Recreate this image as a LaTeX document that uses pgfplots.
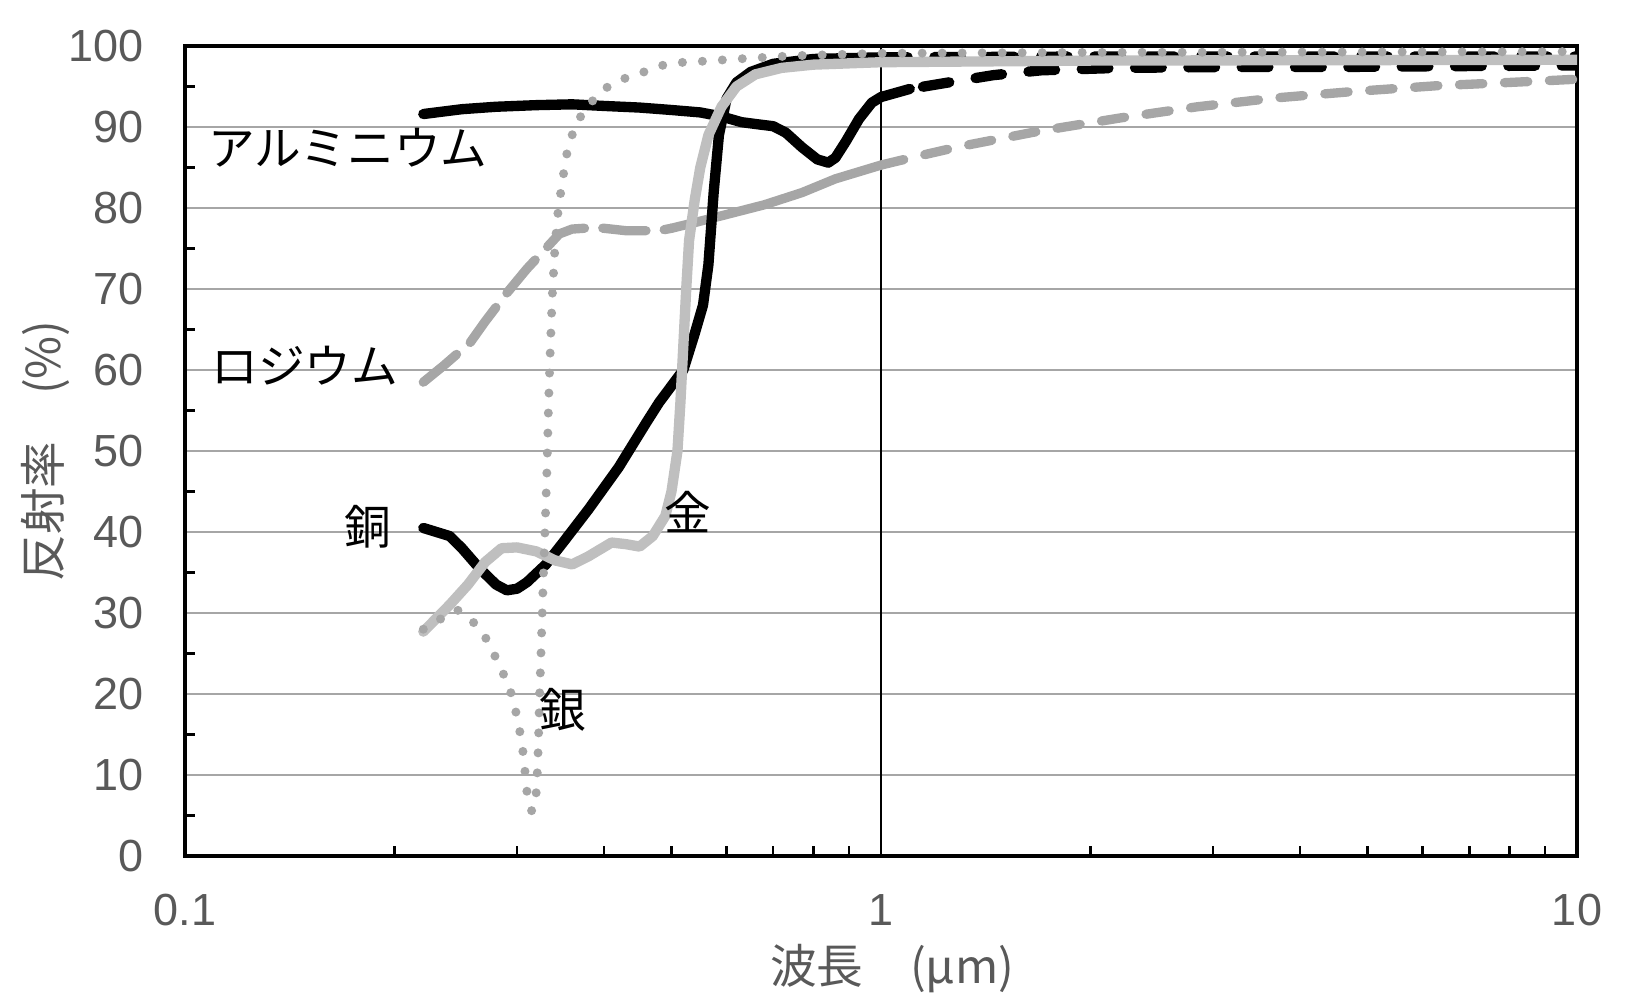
\documentclass[border=0pt]{standalone}
\usepackage{fontspec}
\setmainfont{Liberation Sans}
\newfontfamily\jp{Noto Sans CJK JP}
\usepackage{pgfplots}
\pgfplotsset{compat=1.18}
\definecolor{tickgray}{HTML}{595959}
\definecolor{midgray}{HTML}{A6A6A6}
\definecolor{goldgray}{HTML}{BFBFBF}

\begin{document}
\begin{tikzpicture}
\begin{axis}[
  at={(0,0)}, anchor=south west,
  scale only axis, width=417.6pt, height=243pt,
  xmode=log, xmin=0.1, xmax=10, ymin=0, ymax=100,
  xtick={0.1,1,10}, xticklabels={{0.1},{1},{10}},
  minor xtick={0.2,0.3,0.4,0.5,0.6,0.7,0.8,0.9,2,3,4,5,6,7,8,9},
  ytick={0,10,...,100}, minor ytick={5,15,...,95},
  tick pos=lower,
  ymajorgrids, major grid style={midgray, line width=0.6pt},
  major tick length=0pt, minor tick length=3pt,
  minor tick style={black, line width=0.8pt},
  axis line style={black, line width=1.1pt},
  tick label style={font=\fontsize{13.5}{16}\selectfont, text=tickgray},
  /pgf/number format/assume math mode=true,
  yticklabel style={xshift=-9pt},
  xticklabel style={yshift=-8pt},
  xlabel={\jp 波長　(μm)}, ylabel={\jp 反射率　(\%)},
  label style={font=\fontsize{14}{16}\selectfont, text=tickgray},
  xlabel style={at={(axis description cs:0.508,-0.1395)}, anchor=center},
  ylabel style={at={(axis description cs:-0.1006,0.5)}, anchor=center},
  every axis plot/.append style={line join=round},
]
% vertical reference line at 1 um
\addplot[black, line width=0.6pt] coordinates {(1,0) (1,100)};

% aluminium
\addplot[black, line width=3.1pt, line cap=round] coordinates {
(0.22,91.6) (0.25,92.2) (0.28,92.5) (0.32,92.7) (0.36,92.8) (0.40,92.6)
(0.45,92.4) (0.50,92.1) (0.55,91.8) (0.59,91.3) (0.63,90.6) (0.67,90.3)
(0.70,90.1) (0.73,89.3) (0.77,87.5) (0.81,86.0) (0.84,85.6) (0.86,86.2)
(0.89,88.2) (0.93,91.0) (0.97,93.0) (1.0,93.7) (1.1,94.7)};
\addplot[black, line width=3.1pt, line cap=round, dash pattern=on 8pt off 8pt, dash phase=12pt] coordinates {
(1.1,94.7) (1.25,95.5) (1.45,96.4) (1.7,97.0) (2.2,97.3) (3.1,97.4)
(4.4,97.4) (6.3,97.5) (10,97.6)};

% rhodium
\addplot[midgray, line width=2.8pt, line cap=round, dash pattern=on 13pt off 5.5pt] coordinates {
(0.22,58.5) (0.235,60.5) (0.25,62.5) (0.255,63.0) (0.27,66.0) (0.29,69.5)
(0.31,72.5) (0.33,75.0) (0.345,76.8) (0.36,77.4) (0.39,77.6) (0.43,77.2)
(0.48,77.2) (0.5,77.5)};
\addplot[midgray, line width=2.8pt, line cap=round] coordinates {
(0.5,77.5) (0.54,78.2) (0.6,79.2) (0.68,80.4) (0.77,81.9) (0.86,83.6) (1.0,85.3)};
\addplot[midgray, line width=2.8pt, line cap=round, dash pattern=on 7pt off 6.5pt] coordinates {
(1.0,85.3) (1.13,86.4) (1.3,87.6) (1.69,89.5) (2.2,91.1) (2.85,92.5)
(3.7,93.6) (4.8,94.4) (6.3,95.1) (8,95.5) (10,95.9)};

% copper
\addplot[black, line width=3.1pt, line cap=round] coordinates {
(0.22,40.5) (0.24,39.5) (0.25,38.0) (0.265,35.5) (0.28,33.5) (0.29,32.8)
(0.30,33.0) (0.31,33.8) (0.33,36.0) (0.35,38.8) (0.38,42.8) (0.42,48.0)
(0.46,53.5) (0.48,56.0) (0.52,60.0) (0.54,64.5) (0.555,68.0) (0.565,73.0)
(0.575,82.0) (0.585,89.0) (0.60,93.5) (0.62,95.5) (0.65,96.8) (0.70,97.8)
(0.80,98.4) (1.0,98.6)};
\addplot[black, line width=3.1pt, line cap=round, dash pattern=on 8pt off 8pt] coordinates {
(1.0,98.6) (2,98.7) (5,98.7) (10,98.7)};

% gold
\addplot[goldgray, line width=3.1pt, line cap=round] coordinates {
(0.22,27.7) (0.24,31.0) (0.255,33.5) (0.27,36.3) (0.285,38.0) (0.30,38.1)
(0.32,37.6) (0.34,36.5) (0.36,36.0) (0.38,37.0) (0.41,38.7) (0.43,38.5)
(0.45,38.2) (0.47,39.5) (0.49,42.0) (0.50,45.0) (0.51,50.0) (0.515,56.0)
(0.52,63.0) (0.525,70.0) (0.53,76.0) (0.54,81.0) (0.55,85.0) (0.565,89.0)
(0.59,92.5) (0.62,95.0) (0.66,96.5) (0.72,97.3) (0.80,97.7) (1.0,98.0)
(2,98.2) (10,98.3)};

% silver
\addplot[midgray, line width=2.7pt, line cap=round, dash pattern=on 0pt off 6pt] coordinates {
(0.22,28.0) (0.23,29.0) (0.246,30.4) (0.257,29.3) (0.269,27.3) (0.277,25.2)
(0.285,23.0) (0.293,20.6) (0.299,17.7) (0.303,15.2) (0.306,12.8) (0.308,10.4)
(0.310,7.9) (0.315,5.5) (0.320,8.0) (0.322,14.0) (0.323,19.0) (0.325,26.0)
(0.327,33.5) (0.329,40.0) (0.331,47.0) (0.333,56.0) (0.335,63.0) (0.337,69.0)
(0.340,75.0) (0.343,79.0) (0.348,83.0) (0.355,87.5) (0.365,90.5) (0.38,92.7)
(0.40,94.7) (0.425,95.9) (0.45,96.6) (0.48,97.5) (0.50,97.9) (0.55,98.1)
(0.65,98.5) (0.75,98.8) (1.0,99.1) (2,99.2) (10,99.3)};

\begin{scope}[font=\jp\fontsize{14}{16}\selectfont]
\node at (axis cs:0.1714,87.4) {アルミニウム};
\node at (axis cs:0.1486,60.5) {ロジウム};
\node at (axis cs:0.183,40.6) {銅};
\node at (axis cs:0.528,42.5) {金};
\node at (axis cs:0.349,18.0) {銀};
\end{scope}
\end{axis}
\pgfresetboundingbox
\path (-55.5pt,-43.5pt) rectangle (433.8pt,256.8pt);
\end{tikzpicture}
\end{document}
